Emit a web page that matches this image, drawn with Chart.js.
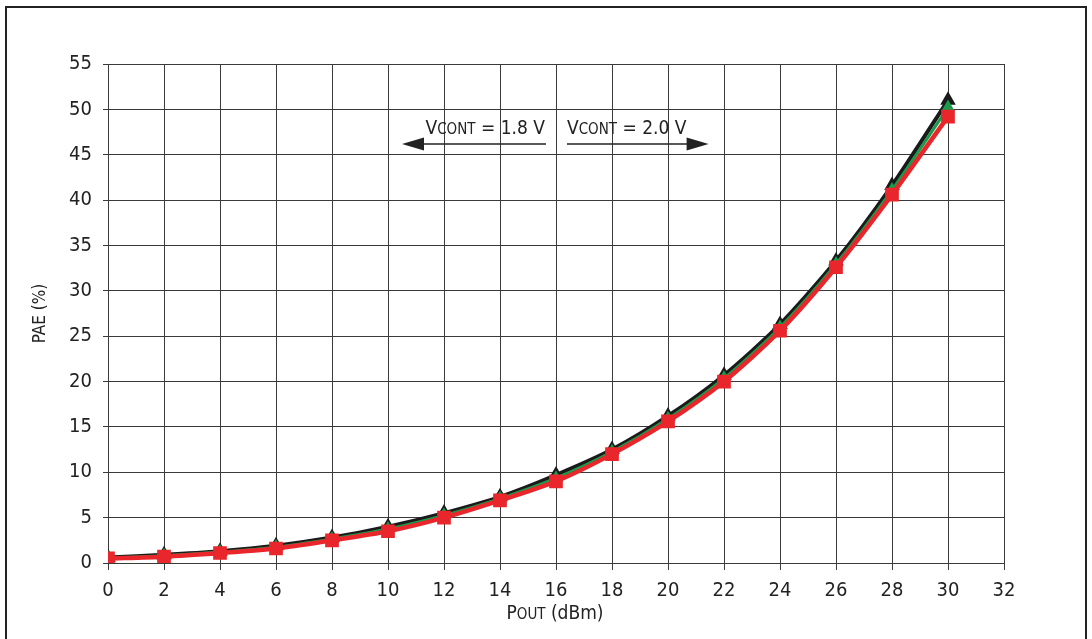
<!DOCTYPE html>
<html>
<head>
<meta charset="utf-8">
<script src="https://cdn.jsdelivr.net/npm/chart.js@4"></script>
<style>
  html, body { margin: 0; padding: 0; background: #fff; }
  #wrap { width: 1092px; height: 639px; position: relative; }
</style>
</head>
<body>
<div id="wrap"><canvas id="chartPAE"></canvas></div>
<script>
// Messpunkte
const pout = [0, 2, 4, 6, 8, 10, 12, 14, 16, 18, 20, 22, 24, 26, 28, 30];
const paeSchwarz = [0.6, 0.9, 1.3, 1.9, 2.8, 4.0, 5.5, 7.3, 9.7, 12.5, 16.2, 20.7, 26.3, 33.3, 41.6, 51.0];
const paeGruen   = [0.55, 0.8, 1.2, 1.75, 2.65, 3.75, 5.25, 7.1, 9.35, 12.25, 15.9, 20.35, 25.95, 32.95, 41.1, 50.2];
const paeRot     = [0.5, 0.7, 1.1, 1.6, 2.5, 3.5, 5.0, 6.9, 9.0, 12.0, 15.6, 20.0, 25.6, 32.6, 40.6, 49.2];

const schrift = "'DejaVu Sans Condensed', 'Liberation Sans Narrow', 'Liberation Sans', sans-serif";
const textFarbe = '#222';
const gitter = '#3a3a3a';

const punkte = (werte) => pout.map((x, i) => ({ x, y: werte[i] }));

// Text mit Kapitälchen-Anteil: [gross, klein, rest]
function kapText(ctx, teile, x, y, groesse, ausrichtung) {
  const gross = `${groesse}px ${schrift}`;
  const klein = `${Math.round(groesse * 0.78)}px ${schrift}`;
  ctx.font = gross; const w1 = ctx.measureText(teile[0]).width;
  ctx.font = klein; const w2 = ctx.measureText(teile[1]).width;
  ctx.font = gross; const w3 = ctx.measureText(teile[2]).width;
  const gesamt = w1 + w2 + w3;
  let x0 = x;
  if (ausrichtung === 'right') x0 = x - gesamt;
  if (ausrichtung === 'center') x0 = x - gesamt / 2;
  ctx.textAlign = 'left';
  ctx.textBaseline = 'alphabetic';
  ctx.fillStyle = textFarbe;
  ctx.font = gross; ctx.fillText(teile[0], x0, y);
  ctx.font = klein; ctx.fillText(teile[1], x0 + w1, y);
  ctx.font = gross; ctx.fillText(teile[2], x0 + w1 + w2, y);
}

function pfeil(ctx, xVon, xBis, y) {
  const richtung = Math.sign(xBis - xVon);
  ctx.strokeStyle = '#222'; ctx.fillStyle = '#222'; ctx.lineWidth = 1.5;
  ctx.beginPath(); ctx.moveTo(xVon, y); ctx.lineTo(xBis - richtung * 18, y); ctx.stroke();
  ctx.beginPath();
  ctx.moveTo(xBis, y);
  ctx.lineTo(xBis - richtung * 22, y - 6.5);
  ctx.lineTo(xBis - richtung * 22, y + 6.5);
  ctx.closePath(); ctx.fill();
}

const beschriftung = {
  id: 'beschriftung',
  beforeDraw(chart) {
    const ctx = chart.ctx;
    ctx.save();
    ctx.strokeStyle = '#222'; ctx.lineWidth = 2;
    ctx.beginPath();
    ctx.moveTo(6, 645); ctx.lineTo(6, 7); ctx.lineTo(1086, 7); ctx.lineTo(1086, 645);
    ctx.stroke();
    ctx.restore();
  },
  afterDraw(chart) {
    const ctx = chart.ctx;
    const { x } = chart.scales;
    ctx.save();
    const xm = x.getPixelForValue(16);
    pfeil(ctx, xm - 10, x.getPixelForValue(10.5), 144);
    pfeil(ctx, xm + 11, x.getPixelForValue(21.45), 144);
    kapText(ctx, ['V', 'CONT', ' = 1.8 V'], xm - 11, 134, 19, 'right');
    kapText(ctx, ['V', 'CONT', ' = 2.0 V'], xm + 11, 134, 19, 'left');
    // Achsentitel
    kapText(ctx, ['P', 'OUT', ' (dBm)'], 555, 619, 19, 'center');
    ctx.translate(45, (chart.chartArea.top + chart.chartArea.bottom) / 2);
    ctx.rotate(-Math.PI / 2);
    kapText(ctx, ['PAE (%)', '', ''], 0, 0, 17, 'center');
    ctx.restore();
  },
};

new Chart(document.getElementById('chartPAE'), {
  type: 'line',
  data: {
    datasets: [
      { label: 'schwarz', data: punkte(paeSchwarz), borderColor: '#1a1a1a', backgroundColor: '#1a1a1a',
        borderWidth: 4, pointStyle: 'triangle', pointRadius: 5, tension: 0.25, order: 3 },
      { label: 'grün', data: punkte(paeGruen), borderColor: '#1a9a4a', backgroundColor: '#1a9a4a',
        borderWidth: 3, pointStyle: 'triangle', pointRadius: 5, tension: 0.25, order: 2 },
      { label: 'rot', data: punkte(paeRot), borderColor: '#e8262b', backgroundColor: '#e8262b',
        borderWidth: 4.5, pointStyle: 'rect', pointRadius: 6.5, tension: 0.25, order: 1 },
    ],
  },
  options: {
    responsive: true,
    maintainAspectRatio: false,
    animation: false,
    layout: { padding: { left: 0, right: 88, top: 64, bottom: 0 } },
    plugins: { legend: { display: false }, tooltip: { enabled: false } },
    scales: {
      x: {
        type: 'linear', min: 0, max: 32,
        ticks: { stepSize: 2, color: textFarbe, font: { family: schrift, size: 20 }, padding: 9 },
        grid: { color: gitter, lineWidth: 1, tickLength: 7 },
        border: { color: gitter },
        afterFit: (s) => { s.height = 76; },
      },
      y: {
        min: 0, max: 55,
        ticks: { stepSize: 5, color: textFarbe, font: { family: schrift, size: 20 }, padding: 11 },
        grid: { color: gitter, lineWidth: 1, tickLength: 5 },
        border: { color: gitter },
        afterFit: (s) => { s.width = 108; },
      },
    },
  },
  plugins: [beschriftung],
});
</script>
</body>
</html>
